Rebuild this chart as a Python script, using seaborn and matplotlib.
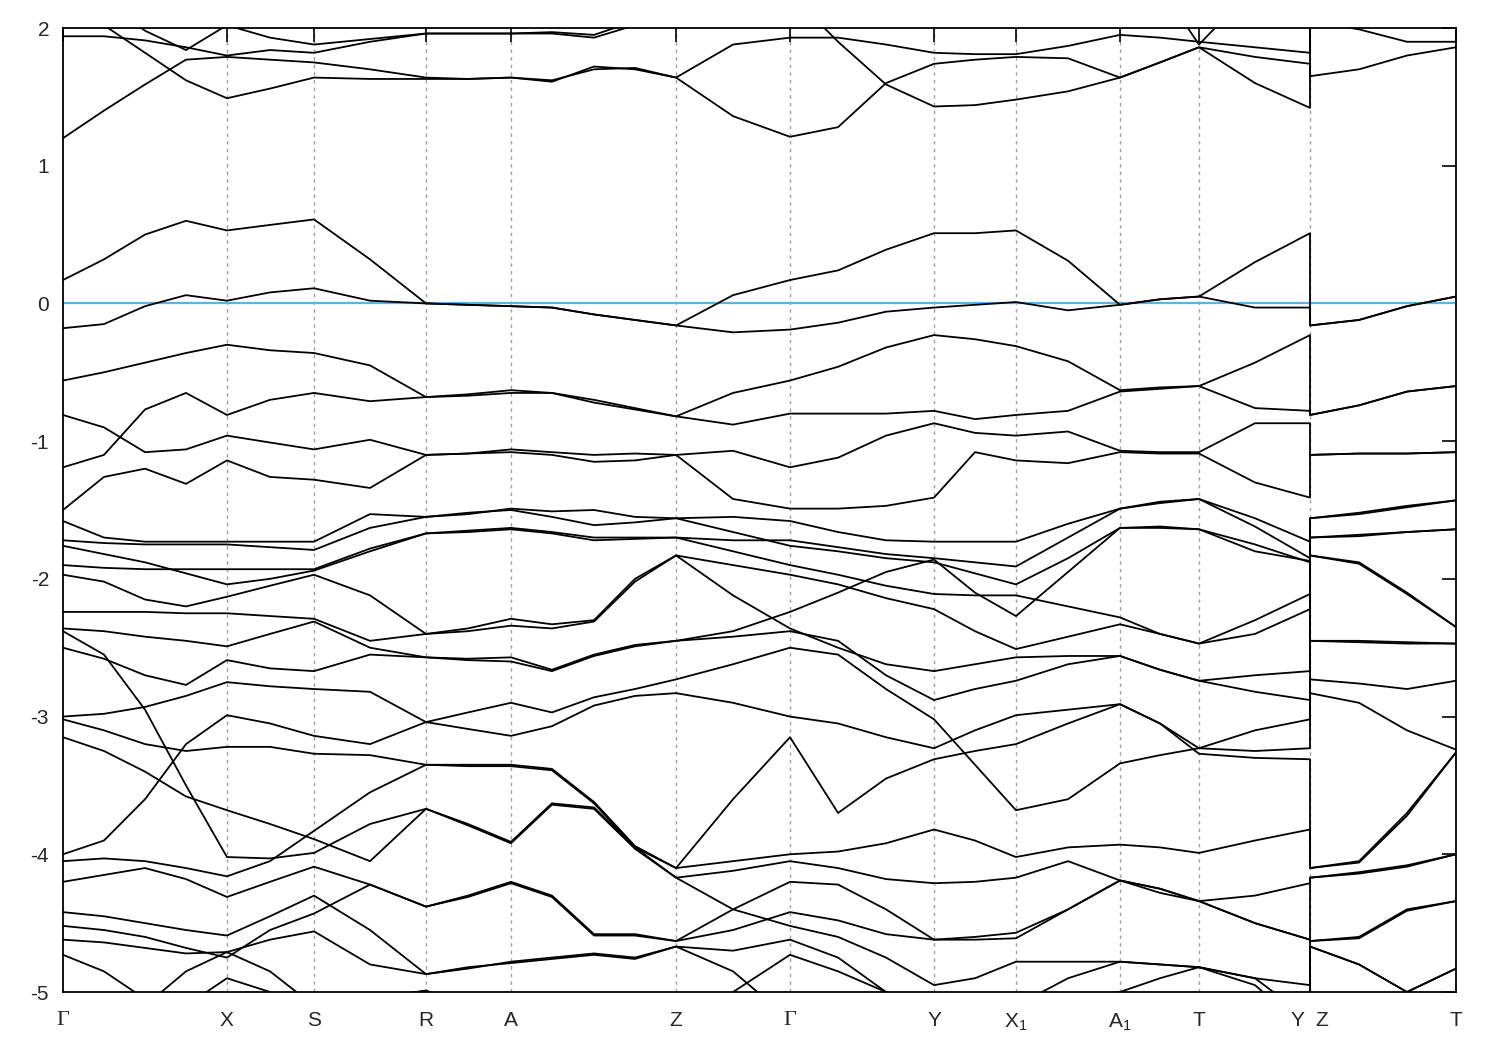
import numpy as np
import pandas as pd
import matplotlib
matplotlib.use("Agg")
import matplotlib.pyplot as plt
import seaborn as sns

# ---- high-symmetry path ----
tick_labels = ["Γ", "X", "S", "R", "A", "Z", "Γ", "Y", "X$_{1}$", "A$_{1}$", "T", "Y  Z", "T"]
tick_pos = [0.0, 0.1177, 0.1802, 0.2606, 0.3216, 0.4401, 0.5219, 0.6253, 0.6841, 0.7588, 0.8155, 0.8952, 1.0]

# common k grid (the Y|Z break appears twice)
kpath = [0.0, 0.0294, 0.0589, 0.0883, 0.1177, 0.1486, 0.1802, 0.2204, 0.2606, 0.2907,
         0.3216, 0.3510, 0.3812, 0.4106, 0.4401, 0.4810, 0.5219, 0.5564, 0.5908, 0.6253,
         0.6547, 0.6841, 0.7215, 0.7588, 0.7875, 0.8155, 0.8557, 0.8952, 0.8952, 0.9304,
         0.9648, 1.0]

# ---- conduction bands ----
Ua = [1.20, 1.40, 1.59, 1.77, 1.79, 1.77, 1.75, 1.70, 1.64, 1.63, 1.64, 1.62, 1.70, 1.71, 1.64, 1.36,
      1.21, 1.28, 1.60, 1.74, 1.77, 1.79, 1.78, 1.64, 1.75, 1.86, 1.79, 1.74, 1.65, 1.70, 1.80, 1.86]
Ub = [2.20, 2.02, 1.82, 1.62, 1.49, 1.56, 1.64, 1.63, 1.63, 1.63, 1.64, 1.61, 1.72, 1.70, 1.64, 1.88,
      1.93, 1.93, 1.88, 1.82, 1.81, 1.81, 1.87, 1.95, 1.93, 1.90, 1.86, 1.82, 2.05, 1.99, 1.90, 1.90]
Uc = [1.94, 1.94, 1.91, 1.86, 1.80, 1.84, 1.82, 1.90, 1.96, 1.96, 1.96, 1.96, 1.93, 2.02, 2.15, 2.25,
      2.25, 1.90, 1.59, 1.43, 1.44, 1.48, 1.54, 1.64, 1.75, 1.86, 1.60, 1.42, 2.40, 2.40, 2.40, 2.40]
Ud = [2.40, 2.20, 1.98, 1.84, 2.02, 1.93, 1.88, 1.92, 1.96, 1.96, 1.96, 1.97, 1.95, 2.05, 2.20, 2.40,
      2.40, 2.40, 2.40, 2.40, 2.40, 2.40, 2.40, 2.40, 2.30, 1.88, 2.30, 2.40, 2.40, 2.40, 2.40, 2.40]

# ---- valence bands near E_F ----
V1 = [0.17, 0.32, 0.50, 0.60, 0.53, 0.57, 0.61, 0.32, 0.00, -0.01, -0.02, -0.03, -0.08, -0.12, -0.16, 0.06,
      0.17, 0.24, 0.39, 0.51, 0.51, 0.53, 0.31, -0.01, 0.03, 0.05, 0.30, 0.51, -0.16, -0.12, -0.02, 0.05]
V2 = [-0.18, -0.15, -0.02, 0.06, 0.02, 0.08, 0.11, 0.02, 0.00, -0.01, -0.02, -0.03, -0.08, -0.12, -0.16, -0.21,
      -0.19, -0.14, -0.06, -0.03, -0.01, 0.01, -0.05, -0.01, 0.03, 0.05, -0.03, -0.03, -0.16, -0.12, -0.02, 0.05]
V3 = [-0.56, -0.50, -0.43, -0.36, -0.30, -0.34, -0.36, -0.45, -0.68, -0.66, -0.63, -0.65, -0.70, -0.76, -0.82, -0.65,
      -0.56, -0.46, -0.32, -0.23, -0.26, -0.31, -0.42, -0.63, -0.61, -0.60, -0.43, -0.23, -0.81, -0.74, -0.64, -0.60]
V4 = [-0.81, -0.90, -1.08, -1.06, -0.96, -1.01, -1.06, -0.99, -1.10, -1.09, -1.06, -1.08, -1.10, -1.09, -1.10, -1.07,
      -1.19, -1.12, -0.96, -0.87, -0.94, -0.96, -0.93, -1.07, -1.08, -1.08, -0.87, -0.87, -1.10, -1.09, -1.09, -1.08]
V5 = [-1.19, -1.10, -0.77, -0.65, -0.81, -0.70, -0.65, -0.71, -0.68, -0.67, -0.65, -0.65, -0.72, -0.77, -0.82, -0.88,
      -0.80, -0.80, -0.80, -0.78, -0.84, -0.81, -0.78, -0.64, -0.62, -0.60, -0.76, -0.78, -0.81, -0.74, -0.64, -0.60]
V6 = [-1.50, -1.26, -1.20, -1.31, -1.14, -1.26, -1.28, -1.34, -1.10, -1.09, -1.08, -1.10, -1.15, -1.14, -1.10, -1.42,
      -1.49, -1.49, -1.47, -1.41, -1.08, -1.14, -1.16, -1.08, -1.09, -1.09, -1.30, -1.41, -1.10, -1.09, -1.09, -1.08]

# ---- deeper valence bands ----
L1 = [-1.58, -1.70, -1.73, -1.73, -1.73, -1.73, -1.73, -1.53, -1.55, -1.53, -1.49, -1.51, -1.50, -1.55, -1.56, -1.55,
      -1.58, -1.66, -1.72, -1.73, -1.73, -1.73, -1.60, -1.49, -1.45, -1.42, -1.56, -1.73, -1.56, -1.52, -1.47, -1.43]
L2 = [-1.72, -1.74, -1.75, -1.75, -1.75, -1.77, -1.79, -1.63, -1.55, -1.52, -1.50, -1.55, -1.61, -1.59, -1.56, -1.66,
      -1.76, -1.80, -1.85, -1.88, -1.96, -2.04, -1.85, -1.63, -1.63, -1.64, -1.75, -1.88, -1.56, -1.53, -1.48, -1.43]
L3 = [-1.76, -1.82, -1.88, -1.96, -2.04, -2.00, -1.94, -1.80, -1.67, -1.65, -1.63, -1.66, -1.70, -1.70, -1.70, -1.72,
      -1.72, -1.77, -1.82, -1.85, -1.88, -1.91, -1.70, -1.49, -1.44, -1.42, -1.62, -1.85, -1.70, -1.68, -1.66, -1.64]
L4 = [-1.90, -1.92, -1.93, -1.93, -1.93, -1.93, -1.93, -1.78, -1.67, -1.66, -1.64, -1.67, -1.72, -1.71, -1.70, -1.80,
      -1.90, -1.97, -2.05, -2.11, -2.12, -2.12, -2.20, -2.28, -2.40, -2.47, -2.30, -2.11, -1.70, -1.69, -1.66, -1.64]
L5 = [-1.97, -2.02, -2.15, -2.20, -2.13, -2.05, -1.97, -2.12, -2.40, -2.36, -2.29, -2.33, -2.30, -2.00, -1.83, -1.90,
      -1.97, -2.04, -2.14, -2.22, -2.38, -2.51, -2.42, -2.33, -2.40, -2.47, -2.40, -2.22, -1.83, -1.88, -2.10, -2.35]
L6 = [-2.24, -2.24, -2.24, -2.25, -2.25, -2.27, -2.29, -2.45, -2.40, -2.38, -2.34, -2.36, -2.31, -2.02, -1.83, -2.12,
      -2.36, -2.50, -2.62, -2.67, -2.62, -2.57, -2.56, -2.56, -2.66, -2.74, -2.70, -2.67, -1.83, -1.89, -2.11, -2.35]
L7 = [-2.36, -2.38, -2.42, -2.45, -2.49, -2.40, -2.31, -2.50, -2.57, -2.58, -2.57, -2.66, -2.55, -2.48, -2.45, -2.38,
      -2.24, -2.10, -1.95, -1.86, -2.10, -2.27, -1.95, -1.63, -1.62, -1.64, -1.80, -1.87, -2.45, -2.45, -2.46, -2.47]
L8 = [-2.38, -2.55, -2.95, -3.50, -4.02, -4.03, -3.99, -3.78, -3.67, -3.78, -3.91, -3.63, -3.66, -3.95, -4.17, -4.12,
      -4.05, -4.10, -4.18, -4.21, -4.20, -4.17, -4.05, -4.19, -4.28, -4.34, -4.30, -4.21, -4.17, -4.13, -4.08, -4.00]
L9 = [-2.50, -2.58, -2.70, -2.77, -2.59, -2.65, -2.67, -2.55, -2.57, -2.59, -2.60, -2.67, -2.56, -2.49, -2.45, -2.42,
      -2.38, -2.45, -2.70, -2.88, -2.80, -2.74, -2.62, -2.56, -2.66, -2.74, -2.82, -2.88, -2.45, -2.46, -2.47, -2.47]
L10 = [-3.00, -2.98, -2.93, -2.85, -2.75, -2.78, -2.80, -2.82, -3.04, -2.97, -2.90, -2.97, -2.86, -2.80, -2.73, -2.62,
       -2.50, -2.55, -2.80, -3.02, -3.35, -3.68, -3.60, -3.34, -3.28, -3.23, -3.10, -3.02, -2.73, -2.76, -2.80, -2.74]
L11 = [-3.02, -3.10, -3.20, -3.25, -3.22, -3.22, -3.27, -3.28, -3.35, -3.35, -3.35, -3.38, -3.62, -3.94, -4.10, -3.60,
       -3.15, -3.70, -3.45, -3.31, -3.25, -3.20, -3.05, -2.91, -3.05, -3.23, -3.25, -3.23, -2.83, -2.90, -3.10, -3.24]
L12 = [-3.15, -3.25, -3.40, -3.58, -3.68, -3.78, -3.89, -4.05, -3.67, -3.79, -3.92, -3.64, -3.67, -3.96, -4.17, -4.40,
       -4.52, -4.60, -4.75, -4.95, -4.90, -4.78, -4.78, -4.78, -4.80, -4.82, -4.90, -4.95, -4.67, -4.80, -5.00, -4.83]
L13 = [-4.00, -3.90, -3.60, -3.20, -2.99, -3.05, -3.14, -3.20, -3.04, -3.09, -3.14, -3.07, -2.92, -2.85, -2.83, -2.90,
       -3.00, -3.05, -3.15, -3.23, -3.10, -2.99, -2.95, -2.91, -3.05, -3.27, -3.30, -3.31, -4.10, -4.05, -3.70, -3.26]
L14 = [-4.05, -4.03, -4.05, -4.10, -4.16, -4.05, -3.83, -3.55, -3.35, -3.36, -3.36, -3.39, -3.63, -3.95, -4.10, -4.05,
       -4.00, -3.98, -3.92, -3.82, -3.90, -4.02, -3.95, -3.93, -3.95, -3.99, -3.90, -3.82, -4.10, -4.06, -3.72, -3.26]
L15 = [-4.20, -4.15, -4.10, -4.18, -4.31, -4.20, -4.09, -4.22, -4.38, -4.30, -4.20, -4.30, -4.58, -4.58, -4.63, -4.40,
       -4.20, -4.22, -4.40, -4.62, -4.60, -4.57, -4.40, -4.19, -4.25, -4.34, -4.50, -4.62, -4.17, -4.14, -4.09, -4.00]
L16 = [-4.42, -4.45, -4.50, -4.55, -4.59, -4.45, -4.30, -4.55, -4.87, -4.83, -4.78, -4.75, -4.72, -4.75, -4.67, -4.85,
       -5.20, -5.30, -5.30, -5.30, -5.20, -5.10, -5.05, -5.00, -4.90, -4.82, -4.90, -5.20, -4.63, -4.60, -4.40, -4.34]
L17 = [-4.52, -4.55, -4.60, -4.68, -4.75, -4.55, -4.43, -4.22, -4.38, -4.31, -4.21, -4.31, -4.59, -4.59, -4.63, -4.55,
       -4.42, -4.48, -4.58, -4.62, -4.62, -4.61, -4.40, -4.19, -4.25, -4.34, -4.50, -4.62, -4.63, -4.61, -4.41, -4.34]
L18 = [-4.62, -4.64, -4.68, -4.72, -4.71, -4.62, -4.56, -4.80, -4.87, -4.82, -4.79, -4.76, -4.73, -4.76, -4.67, -4.70,
       -4.62, -4.75, -5.00, -5.30, -5.20, -5.10, -4.90, -4.78, -4.80, -4.82, -4.95, -5.30, -4.67, -4.80, -5.00, -4.83]
L19 = [-4.73, -4.85, -5.05, -5.10, -4.90, -5.00, -5.20, -5.05, -4.99, -5.10, -5.20, -5.20, -5.30, -5.30, -5.30, -5.00,
       -4.73, -4.85, -5.00, -5.30, -5.30, -5.30, -5.30, -5.30, -5.30, -5.30, -5.30, -5.30, -5.30, -5.30, -5.30, -5.30]
L20 = [-5.30, -5.30, -5.10, -4.85, -4.71, -4.85, -5.10, -5.05, -4.99, -5.10, -5.20, -5.25, -5.30, -5.30, -5.30, -5.30,
       -5.30, -5.30, -5.30, -5.30, -5.30, -5.30, -5.30, -5.30, -5.30, -5.30, -5.30, -5.30, -5.30, -5.30, -5.30, -5.30]

bands = [Ua, Ub, Uc, Ud, V1, V2, V3, V4, V5, V6,
         L1, L2, L3, L4, L5, L6, L7, L8, L9, L10, L11, L12, L13, L14, L15, L16, L17, L18, L19, L20]

# ---- long-form table ----
rows = []
for b, band in enumerate(bands):
    for i, (k, e) in enumerate(zip(kpath, band)):
        rows.append((f"b{b:02d}", i, k, e))
df = pd.DataFrame(rows, columns=["band", "idx", "k", "E"])

# ---- plot ----
sns.set_style("white")
plt.rcParams["font.family"] = ["Liberation Sans", "DejaVu Sans"]
plt.rcParams["axes.unicode_minus"] = False
plt.rcParams["mathtext.fontset"] = "custom"
plt.rcParams["mathtext.rm"] = "Liberation Sans"
plt.rcParams["mathtext.it"] = "Liberation Sans"
plt.rcParams["mathtext.default"] = "regular"

fig = plt.figure(figsize=(15, 10.5), dpi=100)
ax = fig.add_axes([63 / 1500, 58 / 1050, (1456 - 63) / 1500, (992 - 28) / 1050])

for pos in tick_pos[1:-1]:
    ax.axvline(pos, color="#a0a0a0", lw=1.0, ls=(0, (2.5, 3)), zorder=0)
ax.axhline(0.0, color="#56b4e9", lw=1.6, zorder=1)

sns.lineplot(data=df, x="k", y="E", units="band", estimator=None, sort=False,
             color="black", lw=1.3, legend=False, ax=ax, zorder=2)

ax.set_xlim(0, 1)
ax.set_ylim(-5, 2)
ax.set_xlabel("")
ax.set_ylabel("")
ax.set_yticks(range(-5, 3))
ax.set_yticklabels([str(v) for v in range(-5, 3)], fontsize=15)
ax.set_xticks(tick_pos)
ax.set_xticklabels(tick_labels, fontsize=15)
for lab in ax.get_xticklabels():
    if lab.get_text() == "Γ":
        lab.set_family(["Liberation Serif", "DejaVu Serif"])
        lab.set_fontsize(16)
ax.tick_params(axis="both", direction="in", length=10, width=1.2, top=True, right=True, color="black")
ax.tick_params(axis="x", pad=14)
ax.tick_params(axis="y", pad=10)
for s in ax.spines.values():
    s.set_color("black")
    s.set_linewidth(1.3)

fig.savefig("out.png", dpi=100)
